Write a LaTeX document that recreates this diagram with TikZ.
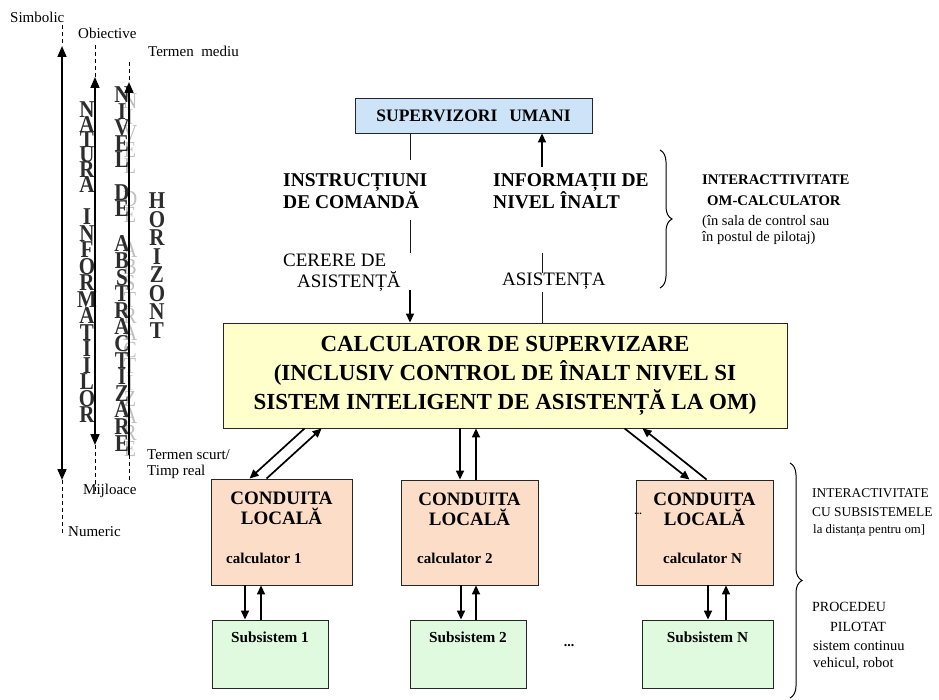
\documentclass[tikz,border=0pt]{standalone}
\usepackage{fontspec}
\setmainfont{Liberation Serif}
\usetikzlibrary{arrows.meta,decorations.pathreplacing,calc}

\definecolor{supblue}{RGB}{205,228,248}
\definecolor{supyellow}{RGB}{255,255,204}
\definecolor{localpeach}{RGB}{252,222,200}
\definecolor{subgreen}{RGB}{224,250,224}
\definecolor{inkgray}{RGB}{45,45,45}

% stack of letters read from top to bottom, slightly stretched vertically
\newcommand\letterstack[6]{%
  \foreach \ch [count=\i from 0] in {#6}{
    \node[#5] (#1\i) at (#2,{#3+\i*#4}) {\scalebox{1}[1.15]{\ch}};
  }}

\begin{document}
\begin{tikzpicture}[x=1pt,y=-1pt,
  box/.style={draw=black!85, line width=0.9pt, inner sep=0pt},
  lbl/.style={inner sep=0pt, anchor=west, align=left},
  side/.style={lbl, font=\fontsize{15}{16}\selectfont},
  vlet/.style={inner sep=0pt, text=inkgray, font=\fontsize{21}{21}\selectfont\bfseries},
  vshadow/.style={inner sep=0pt, text=black!25, font=\fontsize{20}{20}\selectfont},
  thinline/.style={line width=1pt, draw=black!90},
  thickarr/.style={line width=1.7pt, -{Triangle[length=9pt,width=8pt]}},
  axarr/.style={line width=1.7pt, {Triangle[length=11pt,width=9pt]}-{Triangle[length=11pt,width=9pt]}},
  axup/.style={line width=1.7pt, {Triangle[length=11pt,width=9pt]}-},
  axdash/.style={line width=0.9pt, dash pattern=on 4pt off 3pt},
  bracestyle/.style={decorate, decoration={brace, amplitude=12pt}, line width=1pt}
]
\useasboundingbox (0,0) rectangle (939,700);

% ---------- vertical scales on the left ----------
\letterstack{na}{87}{110}{15}{vlet}{N,A,T,U,R,A}
\letterstack{inf}{87}{217}{16.5}{vlet}{I,N,F,O,R,M,A,T,I,I,L,O,R}

\letterstack{nivs}{130}{101}{16.2}{vshadow}{N,I,V,E,L}
\letterstack{des}{130}{199}{15.5}{vshadow}{D,E}
\letterstack{abss}{130}{250}{16.6}{vshadow}{A,B,S,T,R,A,C,T,I,Z,A,R,E}
\letterstack{niv}{122}{95}{16.2}{vlet}{N,I,V,E,L}
\letterstack{de}{122}{193}{15.5}{vlet}{D,E}
\letterstack{abs}{122}{244}{16.6}{vlet}{A,B,S,T,R,A,C,T,I,Z,A,R,E}

\letterstack{hor}{157}{201}{18.5}{vlet}{H,O,R,I,Z,O,N,T}

\coordinate (s0) at (62,25);  \coordinate (s1) at (62,46);
\coordinate (s2) at (62,480); \coordinate (s3) at (62,533);
\draw[axdash] (s0) -- (s1);
\draw[axarr] (s1) -- (s2);
\draw[axdash] (s2) -- (s3);

\coordinate (o0) at (95,45);  \coordinate (o1) at (95,77);
\coordinate (o2) at (95,445); \coordinate (o3) at (95,493);
\draw[axdash] (o0) -- (o1);
\draw[axarr] (o1) -- (o2);
\draw[axdash] (o2) -- (o3);

\coordinate (t0) at (129,62);  \coordinate (t1) at (129,82);
\coordinate (t2) at (129,455); \coordinate (t3) at (129,480);
\draw[axdash] (t0) -- (t1);
\draw[axup] (t1) -- (t2);
\draw[axdash] (t2) -- (t3);

\node[side] (simb) at (10,17.5) {Simbolic};
\node[side] (obj) at (78,33) {Obiective};
\node[side] (tmed) at (148,51) {Termen\ \ mediu};
\node[side] (tscurt) at (147,464) {Termen scurt/\\Timp real};
\node[side] (mij) at (83,491) {Mijloace};
\node[side] (num) at (68,532) {Numeric};

% ---------- main blocks ----------
\node[box, fill=supblue, minimum width=237pt, minimum height=35pt,
      font=\fontsize{17.5}{20}\selectfont\bfseries] (sup) at (473.5,115.5)
      {SUPERVIZORI\hspace{12pt}UMANI};

\node[box, fill=supyellow, minimum width=564pt, minimum height=105pt] (calc) at (505,375.5) {};
\node[inner sep=0pt, align=center, font=\fontsize{23}{29}\selectfont\bfseries] (calctext) at (505,376)
  {CALCULATOR DE SUPERVIZARE\\(INCLUSIV CONTROL DE ÎNALT NIVEL SI\\SISTEM INTELIGENT DE ASISTENȚĂ LA OM)};

% local controllers
\node[box, fill=localpeach, minimum width=141pt, minimum height=106pt] (c1) at (281.5,532) {};
\node[box, fill=localpeach, minimum width=137pt, minimum height=105pt] (c2) at (469.5,532.5) {};
\node[box, fill=localpeach, minimum width=137pt, minimum height=105pt] (cN) at (704.5,532.5) {};

\foreach \b/\k/\cx in {c1/1/226, c2/2/417, cN/N/663}{
  \node[inner sep=0pt, align=center, font=\fontsize{19}{20}\selectfont\bfseries] (\b t) at ($(\b.north)+(0,30)$) {CONDUITA\\LOCALĂ};
  \node[lbl, font=\fontsize{15}{16}\selectfont\bfseries] (\b k) at (\cx,558) {calculator \k};
}

% subsystems
\node[box, fill=subgreen, minimum width=116pt, minimum height=68pt] (s1b) at (270,654) {};
\node[box, fill=subgreen, minimum width=116pt, minimum height=68pt] (s2b) at (468,654) {};
\node[box, fill=subgreen, minimum width=131pt, minimum height=68pt] (sNb) at (707.5,654) {};
\foreach \b/\k in {s1b/1, s2b/2, sNb/N}{
  \node[inner sep=0pt, font=\fontsize{15.3}{16}\selectfont\bfseries] (\b t) at ($(\b.north)+(0,18)$) {Subsistem \k};
}
\node[inner sep=0pt, font=\fontsize{14}{14}\selectfont\bfseries] (dotsub) at (569,646) {...};
\node[inner sep=0pt, font=\fontsize{10}{10}\selectfont\bfseries] (dotloc) at (638,514) {...};

% ---------- links between the human supervisors and the supervisory computer ----------
\node[lbl, font=\fontsize{19.5}{22}\selectfont\bfseries] (instr) at (283,191) {INSTRUCȚIUNI\\DE COMANDĂ};
\node[lbl, font=\fontsize{19.5}{22}\selectfont\bfseries] (info) at (493,191) {INFORMAȚII DE\\NIVEL ÎNALT};
\node[lbl, font=\fontsize{19}{20}\selectfont] (cerere) at (283,260) {CERERE DE};
\node[lbl, font=\fontsize{19}{20}\selectfont] (asist1) at (297,281) {ASISTENȚĂ};
\node[lbl, font=\fontsize{19}{20}\selectfont] (asist2) at (502,281) {ASISTENȚA};

\coordinate (la) at (410,160);
\coordinate (lb) at (410,220); \coordinate (lc) at (410,253);
\coordinate (ld) at (410,290);
\draw[thinline] (sup.south -| la) -- (la);
\draw[thinline] (lb) -- (lc);
\draw[thickarr] (ld) -- (calc.north -| ld);

\coordinate (ra) at (542,167);
\coordinate (rb) at (542,253); \coordinate (rc) at (542,273);
\coordinate (rd) at (542,292);
\draw[thickarr] (ra) -- (sup.south -| ra);
\draw[thinline] (rb) -- (rc);
\draw[thinline] (rd) -- (calc.north -| rd);

% ---------- links to the local controllers ----------
\draw[thickarr] ($(calc.south west)+(82,0)$) -- ($(c1.north west)+(39,0)$);
\draw[thickarr] ($(c1.north west)+(56,0)$) -- ($(calc.south west)+(99,0)$);

\draw[thickarr] (calc.south -| 460,0) -- (c2.north -| 460,0);
\draw[thickarr] (c2.north -| 476,0) -- (calc.south -| 476,0);

\draw[thickarr] ($(calc.south west)+(402,0)$) -- ($(cN.north west)+(54,0)$);
\draw[thickarr] ($(cN.north west)+(71,0)$) -- ($(calc.south west)+(420,0)$);

\draw[thickarr] (c1.south -| 245,0) -- (s1b.north -| 245,0);
\draw[thickarr] (s1b.north -| 261,0) -- (c1.south -| 261,0);
\draw[thickarr] (c2.south -| 461,0) -- (s2b.north -| 461,0);
\draw[thickarr] (s2b.north -| 476,0) -- (c2.south -| 476,0);
\draw[thickarr] (cN.south -| 708,0) -- (sNb.north -| 708,0);
\draw[thickarr] (sNb.north -| 726,0) -- (cN.south -| 726,0);

% ---------- braces and their notes ----------
\coordinate (b1a) at (660,150); \coordinate (b1b) at (660,288);
\draw[bracestyle] (b1a) -- (b1b);
\node[lbl, font=\fontsize{14.7}{21}\selectfont\bfseries] (hci) at (702,190.5) {INTERACTTIVITATE\\\hspace{5pt}OM-CALCULATOR};
\node[lbl, font=\fontsize{14.5}{16}\selectfont] (hcinote) at (702,230) {(în sala de control sau\\în postul de pilotaj)};

\coordinate (b2a) at (790,463); \coordinate (b2b) at (790,698);
\draw[bracestyle] (b2a) -- (b2b);
\node[lbl, font=\fontsize{13.4}{19}\selectfont] (subint) at (812,502.5) {INTERACTIVITATE\\CU SUBSISTEMELE};
\node[lbl, font=\fontsize{12.8}{14}\selectfont] (subnote) at (813,530) {la distanța pentru om]};
\node[lbl, font=\fontsize{14}{20}\selectfont] (proc1) at (812,607) {PROCEDEU};
\node[lbl, font=\fontsize{14}{20}\selectfont] (proc2) at (830,627) {PILOTAT};
\node[lbl, font=\fontsize{14.5}{17}\selectfont] (proc3) at (813,655.5) {sistem continuu\\vehicul, robot};
\end{tikzpicture}
\end{document}
